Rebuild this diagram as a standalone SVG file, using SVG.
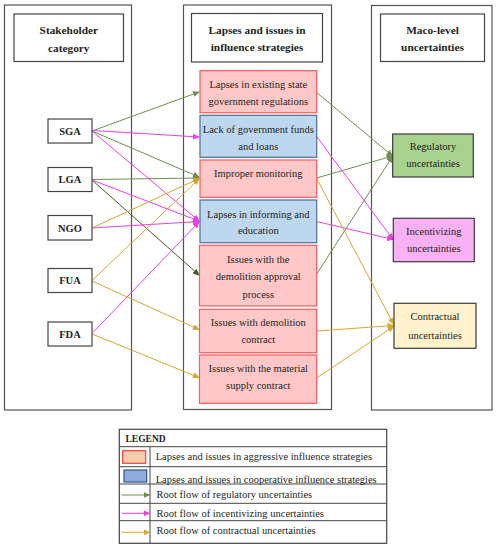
<svg xmlns="http://www.w3.org/2000/svg" width="498" height="550" viewBox="0 0 498 550">
<style>
text{font-family:"Liberation Serif","Times New Roman",serif;font-size:10.5px;fill:#231f20;text-anchor:middle}
.b{font-weight:bold}
.hd{font-weight:bold;font-size:11.3px}
.col{fill:#fff;stroke:#555;stroke-width:1.2}
.hbox{fill:#fff;stroke:#444;stroke-width:1.2}
.node{fill:#fff;stroke:#444;stroke-width:1.2}
.agg{fill:#ffc7c7;stroke:#ff5a5a;stroke-width:1.2}
.coop{fill:#bdd7ee;stroke:#4a6f96;stroke-width:1.2}
.g{stroke:#6f8f4f;stroke-width:1;fill:none}
.dg{stroke:#3e5c2b;stroke-width:1;fill:none}
.m{stroke:#ee3ee6;stroke-width:1;fill:none}
.y{stroke:#d9a62e;stroke-width:1;fill:none}
.lg text{text-anchor:start}
</style>
<defs>
<marker id="ag" markerWidth="7" markerHeight="6" refX="6" refY="3" orient="auto" markerUnits="userSpaceOnUse"><path d="M0,0 L7,3 L0,6 z" fill="#6f8f4f"/></marker>
<marker id="adg" markerWidth="7" markerHeight="6" refX="6" refY="3" orient="auto" markerUnits="userSpaceOnUse"><path d="M0,0 L7,3 L0,6 z" fill="#3e5c2b"/></marker>
<marker id="am" markerWidth="7" markerHeight="6" refX="6" refY="3" orient="auto" markerUnits="userSpaceOnUse"><path d="M0,0 L7,3 L0,6 z" fill="#ee3ee6"/></marker>
<marker id="ay" markerWidth="7" markerHeight="6" refX="6" refY="3" orient="auto" markerUnits="userSpaceOnUse"><path d="M0,0 L7,3 L0,6 z" fill="#d9a62e"/></marker>
</defs>
<rect width="498" height="550" fill="#fff"/>

<g id="columns">
<rect class="col" x="4.5" y="5" width="127" height="405"/>
<rect class="col" x="183.5" y="5" width="148" height="404.5"/>
<rect class="col" x="371.5" y="5.5" width="120.5" height="404.5"/>
</g>

<g id="hdr-stakeholder"><rect class="hbox" x="14" y="14" width="109.5" height="47.5"/>
<text class="hd" x="68.8" y="34">Stakeholder</text><text class="hd" x="68.8" y="51.5">category</text></g>
<g id="hdr-lapses"><rect class="hbox" x="191.5" y="13.5" width="131" height="48.5"/>
<text class="hd" x="257" y="34">Lapses and issues in</text><text class="hd" x="257" y="51">influence strategies</text></g>
<g id="hdr-macro"><rect class="hbox" x="380.5" y="14" width="104" height="47.5"/>
<text class="hd" x="432.5" y="33.5">Maco-level</text><text class="hd" x="432.5" y="51">uncertainties</text></g>

<g id="connectors">
<line class="g" x1="92" y1="131" x2="199" y2="92" marker-end="url(#ag)"/>
<line class="g" x1="92" y1="131" x2="199" y2="177" marker-end="url(#ag)"/>
<line class="g" x1="92" y1="179.5" x2="199" y2="178" marker-end="url(#ag)"/>
<line class="dg" x1="92" y1="180" x2="199" y2="275" marker-end="url(#adg)"/>
<line class="g" x1="316.7" y1="92.5" x2="392.5" y2="156" marker-end="url(#ag)"/>
<line class="g" x1="316.7" y1="178" x2="392.5" y2="156" marker-end="url(#ag)"/>
<line class="g" x1="316.7" y1="274" x2="392.5" y2="156.5" marker-end="url(#ag)"/>

<line class="m" x1="92" y1="130.5" x2="199" y2="137" marker-end="url(#am)"/>
<line class="m" x1="92" y1="131" x2="199" y2="221" marker-end="url(#am)"/>
<line class="m" x1="92" y1="180" x2="199" y2="221" marker-end="url(#am)"/>
<line class="m" x1="92" y1="228" x2="199" y2="221.5" marker-end="url(#am)"/>
<line class="m" x1="92" y1="333.5" x2="199" y2="222" marker-end="url(#am)"/>
<line class="m" x1="316.7" y1="136.5" x2="393" y2="239.5" marker-end="url(#am)"/>
<line class="m" x1="316.7" y1="221.5" x2="393" y2="239.5" marker-end="url(#am)"/>

<line class="y" x1="92" y1="228" x2="199" y2="178.5" marker-end="url(#ay)"/>
<line class="y" x1="92" y1="280.5" x2="199" y2="179" marker-end="url(#ay)"/>
<line class="y" x1="92" y1="281" x2="199" y2="329.5" marker-end="url(#ay)"/>
<line class="y" x1="92" y1="334" x2="199" y2="377.5" marker-end="url(#ay)"/>
<line class="y" x1="316.7" y1="178.5" x2="393.5" y2="324" marker-end="url(#ay)"/>
<line class="y" x1="316.7" y1="331" x2="393.5" y2="325.5" marker-end="url(#ay)"/>
<line class="y" x1="316.7" y1="378" x2="393.5" y2="326.5" marker-end="url(#ay)"/>
</g>

<g id="SGA"><rect class="node" x="48" y="119" width="44" height="24"/><text class="b" x="70" y="134.8">SGA</text></g>
<g id="LGA"><rect class="node" x="48" y="167.5" width="44" height="24"/><text class="b" x="70" y="183.3">LGA</text></g>
<g id="NGO"><rect class="node" x="48" y="215.5" width="44" height="24.5"/><text class="b" x="70" y="231.5">NGO</text></g>
<g id="FUA"><rect class="node" x="48" y="268.5" width="44" height="24"/><text class="b" x="70" y="284.3">FUA</text></g>
<g id="FDA"><rect class="node" x="48" y="322" width="44" height="24"/><text class="b" x="70" y="337.8">FDA</text></g>

<g id="lapses-state-regs"><rect class="agg" x="200" y="70.7" width="116.7" height="42"/>
<text x="258.3" y="87.5">Lapses in existing state</text><text x="258.3" y="105">government regulations</text></g>
<g id="lack-funds"><rect class="coop" x="200" y="115.3" width="116.7" height="42"/>
<text x="258.3" y="132.5">Lack of government funds</text><text x="258.3" y="149.5">and loans</text></g>
<g id="improper-monitoring"><rect class="agg" x="200" y="160" width="116.7" height="37.3"/>
<text x="258.3" y="176.8">Improper monitoring</text></g>
<g id="lapses-informing"><rect class="coop" x="200" y="200" width="116.7" height="42.7"/>
<text x="258.3" y="217.5">Lapses in informing and</text><text x="258.3" y="234.2">education</text></g>
<g id="demolition-approval"><rect class="agg" x="199.5" y="245.3" width="117.2" height="60.7"/>
<text x="258.3" y="262.8">Issues with the</text><text x="258.3" y="280.2">demolition approval</text><text x="258.3" y="297.5">process</text></g>
<g id="demolition-contract"><rect class="agg" x="199.5" y="309.3" width="117.2" height="43.4"/>
<text x="258.3" y="326.2">Issues with demolition</text><text x="258.3" y="342.8">contract</text></g>
<g id="material-supply"><rect class="agg" x="199.5" y="355" width="117.2" height="48.3"/>
<text x="258.3" y="371.8">Issues with the material</text><text x="258.3" y="389.2">supply contract</text></g>

<g id="regulatory"><rect x="392.7" y="134" width="80.6" height="43" fill="#a9d18e" stroke="#3a3a3a" stroke-width="1.2"/>
<text x="433" y="150.2">Regulatory</text><text x="433" y="166.8">uncertainties</text></g>
<g id="incentivizing"><rect x="393.3" y="218.3" width="81" height="43.4" fill="#f9b1f4" stroke="#3a3a3a" stroke-width="1.2"/>
<text x="433.8" y="235.2">Incentivizing</text><text x="433.8" y="251.8">uncertainties</text></g>
<g id="contractual"><rect x="394" y="303.3" width="82" height="45" fill="#fff2cc" stroke="#3a3a3a" stroke-width="1.2"/>
<text x="435" y="320.2">Contractual</text><text x="435" y="338.5">uncertainties</text></g>

<g id="legend" class="lg">
<rect x="119.3" y="429.3" width="267.4" height="114" fill="#fff" stroke="#444" stroke-width="1.2"/>
<path d="M119.3,446.7H386.7M119.3,466.7H386.7M119.3,484H386.7M119.3,503.3H386.7M119.3,520.7H386.7M150,446.7V543.3" stroke="#444" stroke-width="1" fill="none"/>
<text class="b" x="125.5" y="441.5" style="font-size:9.5px">LEGEND</text>
<rect x="122.7" y="450.7" width="23" height="12.6" fill="#f8cbad" stroke="#ff3b3b" stroke-width="1.2"/>
<text x="155.7" y="460">Lapses and issues in aggressive influence strategies</text>
<rect x="124" y="470" width="22.7" height="12" fill="#8faadc" stroke="#2f5597" stroke-width="1.2"/>
<text x="155.7" y="482.5">Lapses and issues in cooperative influence strategies</text>
<line class="g" x1="121.5" y1="495" x2="149.5" y2="495" marker-end="url(#ag)"/>
<text x="156.5" y="497.8">Root flow of regulatory uncertainties</text>
<line class="m" x1="121.5" y1="513.3" x2="149.5" y2="513.3" marker-end="url(#am)"/>
<text x="156.5" y="516.8">Root flow of incentivizing uncertainties</text>
<line class="y" x1="121.5" y1="532.3" x2="149.5" y2="532.3" marker-end="url(#ay)"/>
<text x="156.5" y="533.5">Root flow of contractual uncertainties</text>
</g>
</svg>
